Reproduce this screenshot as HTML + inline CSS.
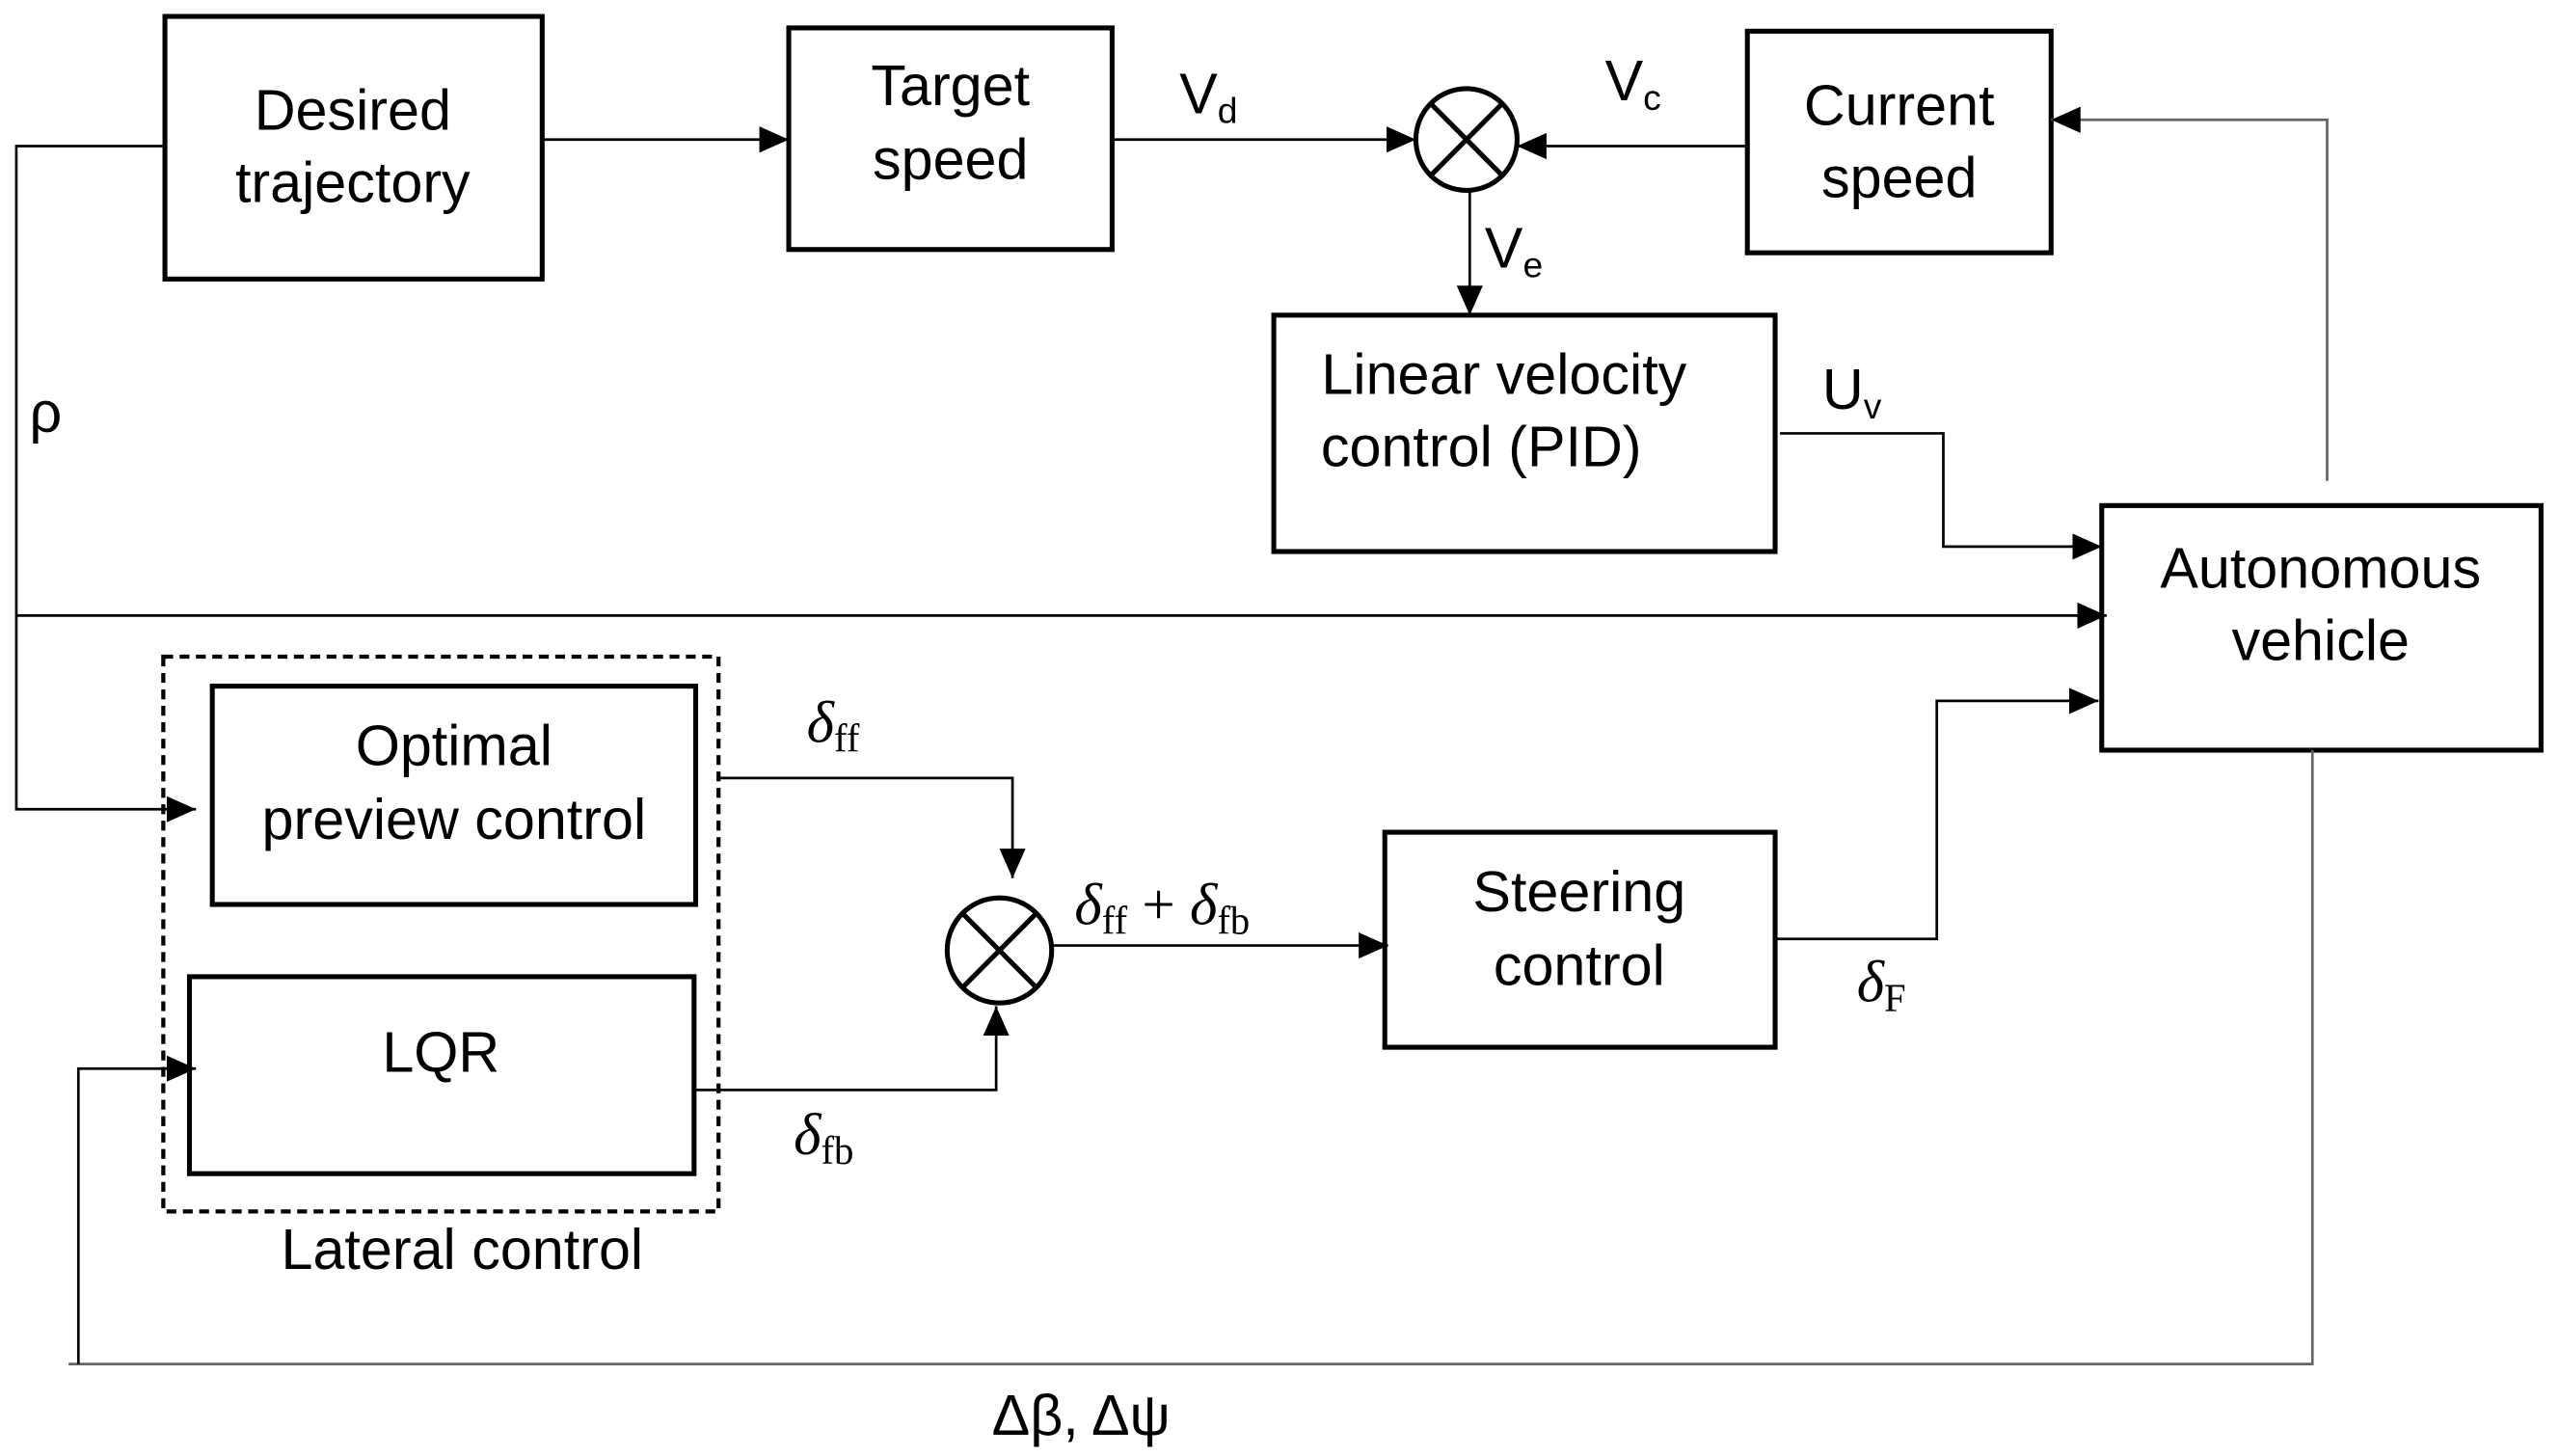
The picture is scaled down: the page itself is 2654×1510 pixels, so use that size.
<!DOCTYPE html>
<html><head><meta charset="utf-8"><style>html,body{margin:0;padding:0;background:#fff}svg{display:block}</style></head>
<body>
<svg width="2654" height="1510" viewBox="0 0 1567 887" preserveAspectRatio="none" xmlns="http://www.w3.org/2000/svg">
<defs>
<marker id="b" markerWidth="20" markerHeight="20" refX="18" refY="10" orient="auto" markerUnits="userSpaceOnUse"><path d="M0,2 L18,10 L0,18 z" fill="#000"/></marker></defs>
<g fill="none" stroke="#000" stroke-width="3">
<rect x="101" y="10" width="231" height="160"/>
<rect x="483" y="17" width="198" height="135"/>
<rect x="1070" y="19" width="186" height="135"/>
<rect x="780" y="192" width="307" height="144"/>
<rect x="1287" y="308" width="269" height="149"/>
<rect x="130" y="418" width="296" height="133"/>
<rect x="116" y="595" width="309" height="120"/>
<rect x="848" y="507" width="239" height="131"/>
<rect x="100" y="400" width="340" height="338" stroke-dasharray="6,4" stroke-width="2.5"/>
<circle cx="898" cy="85" r="31"/>
<line x1="876" y1="63" x2="920" y2="107"/><line x1="920" y1="63" x2="876" y2="107"/>
<circle cx="612" cy="579" r="32"/>
<line x1="589" y1="556" x2="635" y2="602"/><line x1="635" y1="556" x2="589" y2="602"/>
</g>
<g fill="none" stroke="#000" stroke-width="1.6">
<path d="M332,85 H483" marker-end="url(#b)"/>
<path d="M681,85 H867" marker-end="url(#b)"/>
<path d="M1070,89 H929" marker-end="url(#b)"/>
<path d="M900,116 V192" marker-end="url(#b)"/>
<path d="M1425,293 V73 H1256" marker-end="url(#b)" stroke="#666"/>
<path d="M101,89 H10 V493 H120" marker-end="url(#b)"/>
<path d="M10,375 H1290" marker-end="url(#b)"/>
<path d="M1090,264 H1190 V333 H1287" marker-end="url(#b)"/>
<path d="M1087,572 H1186 V427 H1285" marker-end="url(#b)"/>
<path d="M440,474 H620 V535" marker-end="url(#b)"/>
<path d="M425,664 H610 V613" marker-end="url(#b)"/>
<path d="M645,576 H850" marker-end="url(#b)"/>
<path d="M1416,457 V831 H42" stroke="#666"/>
<path d="M48,831 V651 H120" marker-end="url(#b)"/>
</g>
<g font-family="Liberation Sans, sans-serif" font-size="35" text-anchor="middle" fill="#000">
<text x="216" y="79">Desired</text><text x="216" y="123">trajectory</text>
<text x="582" y="64">Target</text><text x="582" y="109">speed</text>
<text x="1163" y="76">Current</text><text x="1163" y="120">speed</text>
<text x="921" y="240">Linear velocity</text><text x="907" y="284">control (PID)</text>
<text x="1421" y="358">Autonomous</text><text x="1421" y="402">vehicle</text>
<text x="278" y="466">Optimal</text><text x="278" y="511">preview control</text>
<text x="270" y="653">LQR</text>
<text x="967" y="555">Steering</text><text x="967" y="600">control</text>
<text x="283" y="773">Lateral control</text>
<text x="662" y="874">Δβ, Δψ</text>
<text x="28" y="263">ρ</text>
<text x="740" y="69">V<tspan font-size="22" dy="6">d</tspan></text>
<text x="1000" y="61">V<tspan font-size="22" dy="6">c</tspan></text>
<text x="927" y="163">V<tspan font-size="22" dy="6">e</tspan></text>
<text x="1134" y="249">U<tspan font-size="22" dy="6">v</tspan></text>
</g>
<g font-family="Liberation Serif, serif" font-style="italic" font-size="36" fill="#000">
<text x="494" y="452">δ<tspan font-style="normal" font-size="24" dy="6">ff</tspan></text>
<text x="486" y="703">δ<tspan font-style="normal" font-size="24" dy="6">fb</tspan></text>
<text x="658" y="563">δ<tspan font-style="normal" font-size="24" dy="6">ff</tspan><tspan font-style="normal" dy="-6"> + </tspan>δ<tspan font-style="normal" font-size="24" dy="6">fb</tspan></text>
<text x="1137" y="610">δ<tspan font-style="normal" font-size="24" dy="6">F</tspan></text>
</g>
</svg>
</body></html>
